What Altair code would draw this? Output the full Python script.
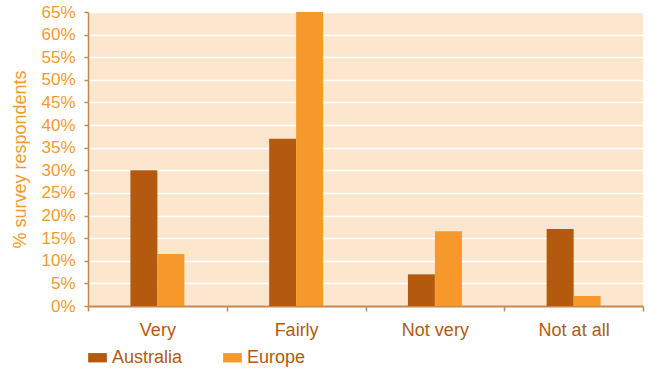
import altair as alt
import pandas as pd

categories = ["Very", "Fairly", "Not very", "Not at all"]
regions = ["Australia", "Europe"]
australia = [30, 37, 7, 17]
europe = [11.5, 65, 16.5, 2.2]
y_ticks = list(range(0, 70, 5))

rows = []
for c, a, e in zip(categories, australia, europe):
    rows.append({"response": c, "region": "Australia", "value": a})
    rows.append({"response": c, "region": "Europe", "value": e})
df = pd.DataFrame(rows)

DARK = "#b35a0f"
ORANGE = "#f7982a"
AXIS = "#c8874e"
FONT = "Liberation Sans"

chart = alt.Chart(df).mark_bar().encode(
    x=alt.X(
        "response:N",
        sort=categories,
        scale=alt.Scale(paddingInner=0, paddingOuter=0),
        axis=alt.Axis(
            title=None, labelAngle=0, tickBand="extent", tickSize=5, tickWidth=1.5,
            tickColor=AXIS, domainColor=AXIS, domainWidth=2, labelFontSize=18,
            labelColor=DARK, labelPadding=10, labelFont=FONT, grid=False,
        ),
    ),
    xOffset=alt.XOffset(
        "region:N", sort=regions,
        scale=alt.Scale(paddingInner=0, paddingOuter=0, range=[42.4, 96.4]),
    ),
    y=alt.Y(
        "value:Q",
        scale=alt.Scale(domain=[0, 65], nice=False),
        axis=alt.Axis(
            title="% survey respondents", values=y_ticks, labelExpr="datum.value + '%'",
            labelFontSize=17, labelColor="#f39a2e", labelFont=FONT, labelPadding=9,
            tickSize=4, tickWidth=1.5, tickColor=AXIS, domainColor=AXIS, domainWidth=1.5,
            grid=True, gridColor="#ffffff", gridWidth=1.5,
            titleColor="#f39a2e", titleFontSize=18, titleFontWeight="normal",
            titleFont=FONT, titlePadding=11,
        ),
    ),
    color=alt.Color(
        "region:N",
        scale=alt.Scale(domain=regions, range=[DARK, ORANGE]),
        legend=alt.Legend(
            title=None, orient="none", legendX=0, legendY=336, direction="horizontal",
            symbolType="M-1,-0.5H1V0.5H-1Z", symbolSize=350, symbolOpacity=1,
            symbolStrokeWidth=0, labelFontSize=18, labelColor=DARK, labelFont=FONT,
            columnPadding=40, labelOffset=5,
        ),
    ),
).properties(
    width=555,
    height=294,
    padding={"left": 88, "top": 12, "right": 7, "bottom": 63},
    autosize="none",
    background="#ffffff",
).configure_view(
    stroke=None, fill="#fde6ce"
)

chart.save("out.html", embed_options={"renderer": "svg", "actions": False})
